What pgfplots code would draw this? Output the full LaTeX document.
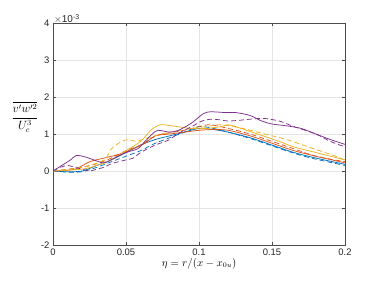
\documentclass[border=0pt]{standalone}
\usepackage{amsmath}
\usepackage{fontspec}
\setmainfont{Liberation Sans}
\usepackage{pgfplots}
\pgfplotsset{compat=1.18}
\definecolor{mblue}{HTML}{0072BD}
\definecolor{mred}{HTML}{D95319}
\definecolor{myel}{HTML}{EDB120}
\definecolor{mpur}{HTML}{7E2F8E}
\begin{document}
\begin{tikzpicture}
\useasboundingbox (-53bp,-37bp) rectangle (323bp,245bp);
\begin{axis}[
  scale only axis, width=292bp, height=222bp,
  xmin=0, xmax=0.2, ymin=-2, ymax=4,
  xtick={0,0.05,...,0.2}, ytick={-2,-1,0,1,2,3,4},
  xticklabels={0,0.05,0.1,0.15,0.2},
  tick align=inside, tick pos=both,
  major tick length=3bp,
  grid=major, major grid style={gray!20, line width=0.4pt},
  axis line style={gray!60!black, line width=0.5pt},
  tick style={gray!60!black},
  ticklabel style={font=\fontsize{9.5}{11}\selectfont, text=black!85},
  /pgf/number format/assume math mode=true,
  xlabel={$\eta = r/(x-x_{0u})$},
  xlabel style={font=\fontsize{10.5}{12}\selectfont, yshift=4bp},
  ylabel={$\dfrac{\overline{v'w'^2}}{U_c^3}$},
  every axis y label/.style={at={(rel axis cs:0,0.577)}, anchor=center, xshift=-28bp, font=\fontsize{11.5}{13}\selectfont, inner sep=0pt},
  clip mode=individual,
  every axis plot/.append style={line width=0.75pt, smooth, tension=0.5},
  dashed/.style={dash pattern=on 5bp off 3bp},
]
% blue solid
\addplot[mblue] coordinates {(0,0)(0.01,-0.02)(0.02,0.0)(0.03,0.15)(0.04,0.3)(0.05,0.5)(0.06,0.7)(0.07,0.85)(0.08,0.95)(0.09,1.05)(0.1,1.15)(0.11,1.12)(0.12,1.05)(0.135,0.9)(0.15,0.7)(0.165,0.5)(0.18,0.35)(0.2,0.18)};
% blue dashed
\addplot[mblue, dashed] coordinates {(0,0)(0.01,-0.03)(0.02,-0.02)(0.03,0.1)(0.04,0.25)(0.05,0.4)(0.06,0.55)(0.07,0.75)(0.08,0.9)(0.09,1.05)(0.1,1.2)(0.11,1.15)(0.12,1.05)(0.135,0.88)(0.15,0.68)(0.165,0.48)(0.18,0.32)(0.2,0.15)};
% red solid
\addplot[mred] coordinates {(0,0)(0.015,0.05)(0.025,0.25)(0.035,0.35)(0.045,0.45)(0.055,0.6)(0.063,0.75)(0.07,0.95)(0.08,1.0)(0.09,1.05)(0.1,1.1)(0.11,1.12)(0.12,1.1)(0.135,0.95)(0.15,0.75)(0.165,0.55)(0.18,0.4)(0.2,0.22)};
% red dashed
\addplot[mred, dashed] coordinates {(0,0)(0.02,0.1)(0.03,0.2)(0.04,0.35)(0.05,0.55)(0.06,0.7)(0.068,0.9)(0.075,1.0)(0.09,1.1)(0.1,1.2)(0.108,1.25)(0.12,1.15)(0.135,1.0)(0.15,0.8)(0.165,0.6)(0.18,0.4)(0.2,0.25)};
% yellow solid
\addplot[myel] coordinates {(0,0)(0.02,0.05)(0.03,0.15)(0.04,0.3)(0.05,0.55)(0.06,0.8)(0.067,1.1)(0.072,1.23)(0.076,1.25)(0.085,1.2)(0.095,1.15)(0.105,1.15)(0.115,1.2)(0.12,1.25)(0.125,1.2)(0.14,1.0)(0.155,0.8)(0.165,0.65)(0.18,0.5)(0.2,0.3)};
% yellow dashed
\addplot[myel, dashed] coordinates {(0,0)(0.02,0.1)(0.035,0.3)(0.04,0.6)(0.047,0.8)(0.052,0.85)(0.057,0.8)(0.065,0.9)(0.08,1.05)(0.095,1.15)(0.105,1.2)(0.115,1.25)(0.13,1.15)(0.145,1.0)(0.16,0.85)(0.175,0.65)(0.19,0.45)(0.2,0.3)};
% purple solid
\addplot[mpur] coordinates {(0,0)(0.006,0.15)(0.012,0.3)(0.016,0.42)(0.022,0.38)(0.028,0.3)(0.035,0.22)(0.042,0.35)(0.05,0.5)(0.058,0.6)(0.063,0.8)(0.068,1.0)(0.072,1.1)(0.08,1.05)(0.086,1.1)(0.095,1.3)(0.103,1.55)(0.108,1.6)(0.118,1.58)(0.125,1.58)(0.135,1.5)(0.143,1.35)(0.15,1.27)(0.16,1.22)(0.17,1.15)(0.18,1.0)(0.19,0.85)(0.2,0.72)};
% purple dashed
\addplot[mpur, dashed] coordinates {(0,0)(0.005,0.1)(0.01,0.15)(0.015,0.1)(0.02,0.05)(0.025,0.0)(0.03,0.05)(0.035,0.1)(0.04,0.2)(0.045,0.25)(0.05,0.3)(0.055,0.35)(0.06,0.5)(0.07,0.7)(0.08,0.85)(0.085,1.0)(0.095,1.2)(0.102,1.35)(0.108,1.4)(0.115,1.38)(0.12,1.35)(0.13,1.38)(0.14,1.42)(0.145,1.42)(0.155,1.35)(0.165,1.2)(0.18,1.0)(0.19,0.8)(0.2,0.65)};
\end{axis}
\node[anchor=south west, font=\fontsize{10}{11}\selectfont, inner sep=1bp, text=black!85] at (0,220bp) {$\times$10\textsuperscript{-3}};
\end{tikzpicture}
\end{document}
